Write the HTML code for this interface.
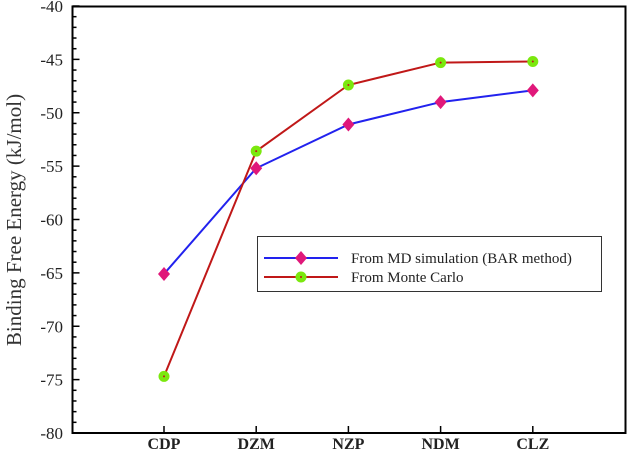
<!DOCTYPE html>
<html><head><meta charset="utf-8"><style>
body{margin:0;background:#fff}
svg{display:block;font-family:"Liberation Serif",serif}
</style></head><body>
<svg id="chart" width="628" height="453" viewBox="0 0 628 453" xmlns="http://www.w3.org/2000/svg">
<rect x="72.5" y="6.5" width="553" height="426.5" fill="none" stroke="#000" stroke-width="2"/>
<g id="yaxis"></g><g id="xaxis"></g><g id="series"></g>
<text transform="translate(21,220) rotate(-90)" text-anchor="middle" font-size="21" fill="#333">Binding Free Energy (kJ/mol)</text>
<g>
<rect x="257.5" y="236.5" width="344" height="55" fill="#fff" stroke="#333" stroke-width="1"/>
<g>
<line x1="264" y1="258" x2="338" y2="258" stroke="#2222ee" stroke-width="2"/>
<polygon points="301,251 307,258 301,265 295,258" fill="#e0187a"/>
<text x="351" y="263" font-size="15" fill="#222">From MD simulation (BAR method)</text></g>
<g>
<line x1="264" y1="277" x2="338" y2="277" stroke="#c01818" stroke-width="2"/>
<circle cx="301" cy="277" r="5.5" fill="#7be80e"/><circle cx="301" cy="277" r="1" fill="#c01818"/>
<text x="351" y="282" font-size="15" fill="#222">From Monte Carlo</text></g>
</g>
</svg>
<script>
const categories=["CDP","DZM","NZP","NDM","CLZ"];
const mdValues=[-65.1,-55.2,-51.1,-49.0,-47.9];
const mcValues=[-74.7,-53.6,-47.4,-45.3,-45.2];
const yTicks=[-40,-45,-50,-55,-60,-65,-70,-75,-80];
const NS="http://www.w3.org/2000/svg";
const x=i=>164+i*92.2;
const y=v=>6+(-40-v)*10.675;
function mk(t,a,p){const e=document.createElementNS(NS,t);for(const k in a)e.setAttribute(k,a[k]);p.appendChild(e);return e;}
const ya=document.getElementById('yaxis'),xa=document.getElementById('xaxis'),sg=document.getElementById('series');
for(let v=-40;v>=-80;v--){const major=v%5===0;mk('line',{x1:72.5,x2:72.5+(major?7:4),y1:y(v),y2:y(v),stroke:'#000','stroke-width':1.5},ya);}
yTicks.forEach(v=>{const t=mk('text',{x:63,y:y(v)+6,'text-anchor':'end','font-size':17,fill:'#222'},ya);t.textContent=v;

});
categories.forEach((c,i)=>{mk('line',{x1:x(i),x2:x(i),y1:433,y2:426,stroke:'#000','stroke-width':1.5},xa);
const t=mk('text',{x:x(i),y:449,'text-anchor':'middle','font-size':16,'font-weight':'bold',fill:'#222'},xa);t.textContent=c;

});
function line(vals,col,name){const p=mk('polyline',{points:vals.map((v,i)=>x(i)+','+y(v)).join(' '),fill:'none',stroke:col,'stroke-width':2},sg);

}
line(mdValues,'#2222ee','md-line');
line(mcValues,'#c01818','mc-line');
mdValues.forEach((v,i)=>{const cx=x(i),cy=y(v);const m=mk('polygon',{points:`${cx},${cy-7} ${cx+6},${cy} ${cx},${cy+7} ${cx-6},${cy}`,fill:'#e0187a'},sg);

});
mcValues.forEach((v,i)=>{const m=mk('circle',{cx:x(i),cy:y(v),r:5.5,fill:'#7be80e'},sg);


mk('circle',{cx:x(i),cy:y(v),r:1,fill:'#c01818'},sg);});
</script>
</body></html>
